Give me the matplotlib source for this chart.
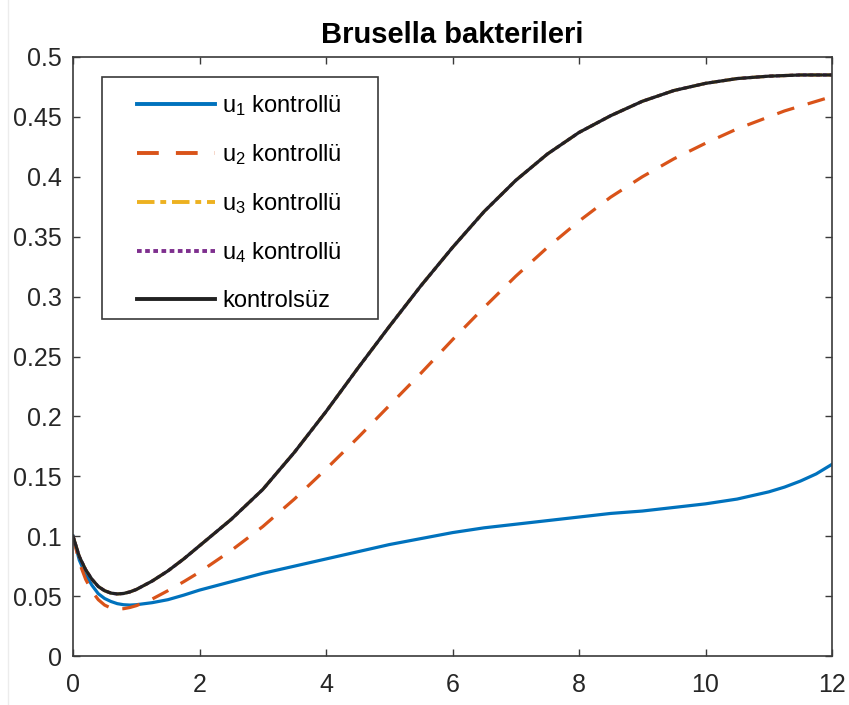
import matplotlib
matplotlib.use("Agg")
import matplotlib.pyplot as plt
from matplotlib.lines import Line2D
from matplotlib.patches import Rectangle

plt.rcParams["font.family"] = ["Liberation Sans", "DejaVu Sans"]
plt.rcParams["mathtext.fontset"] = "custom"
plt.rcParams["mathtext.rm"] = "Liberation Sans"
plt.rcParams["mathtext.it"] = "Liberation Sans:italic"

# Time axis (days) and bacteria population for each scenario
t = [0, 0.1, 0.2, 0.3, 0.4, 0.5, 0.6, 0.7, 0.8, 0.9, 1.0, 1.25, 1.5, 1.75,
     2.0, 2.5, 3.0, 3.5, 4.0, 4.5, 5.0, 5.5, 6.0, 6.5, 7.0, 7.5, 8.0, 8.5,
     9.0, 9.5, 10.0, 10.5, 11.0, 11.25, 11.5, 11.75, 12.0]

u1 = [0.100, 0.080, 0.068, 0.059, 0.052, 0.0480, 0.0455, 0.0437, 0.0428,
      0.0425, 0.0428, 0.0445, 0.0470, 0.0508, 0.055, 0.062, 0.069, 0.075,
      0.081, 0.087, 0.093, 0.098, 0.103, 0.107, 0.110, 0.113, 0.116, 0.119,
      0.121, 0.124, 0.127, 0.131, 0.137, 0.141, 0.146, 0.152, 0.160]

u2 = [0.100, 0.078, 0.064, 0.054, 0.047, 0.0425, 0.0400, 0.0392, 0.0395,
      0.0405, 0.0420, 0.0475, 0.0545, 0.0620, 0.070, 0.088, 0.108, 0.131,
      0.156, 0.182, 0.209, 0.236, 0.264, 0.291, 0.317, 0.341, 0.363, 0.383,
      0.400, 0.415, 0.428, 0.440, 0.450, 0.455, 0.459, 0.463, 0.467]

no_control = [0.100, 0.083, 0.072, 0.064, 0.058, 0.0545, 0.0525, 0.0518,
              0.0522, 0.0535, 0.0555, 0.0625, 0.0710, 0.0810, 0.092, 0.114,
              0.139, 0.170, 0.204, 0.240, 0.275, 0.309, 0.341, 0.371, 0.397,
              0.419, 0.437, 0.451, 0.463, 0.472, 0.478, 0.482, 0.484, 0.4845,
              0.485, 0.485, 0.485]

# u3 and u4 controls leave the curve unchanged
u3 = list(no_control)
u4 = list(no_control)

labels = [r"u$_1$ kontrollü", r"u$_2$ kontrollü", r"u$_3$ kontrollü",
          r"u$_4$ kontrollü", "kontrolsüz"]
xticks = [0, 2, 4, 6, 8, 10, 12]
yticks = [0, 0.05, 0.1, 0.15, 0.2, 0.25, 0.3, 0.35, 0.4, 0.45, 0.5]
title = "Brusella bakterileri"

fig = plt.figure(figsize=(8.49, 7.05), dpi=100)
ax = fig.add_axes([73 / 849, 49 / 705, 759 / 849, 599 / 705])

lw = 2.3
ax.plot(t, u1, color="#0072BD", lw=lw, label=labels[0])
ax.plot(t, u2, color="#D95319", lw=lw, ls=(0, (5.6, 4.4)), label=labels[1])
ax.plot(t, u3, color="#EDB120", lw=lw, ls=(0, (4.5, 1.5, 1.5, 1.5)), label=labels[2])
ax.plot(t, u4, color="#7E2F8E", lw=lw, ls=(0, (1.2, 0.9)), label=labels[3])
ax.plot(t, no_control, color="#222222", lw=lw, label=labels[4])

ax.set_xlim(0, 12)
ax.set_ylim(0, 0.5)
ax.set_xticks(xticks)
ax.set_xticklabels([f"{v:g}" for v in xticks])
ax.set_yticks(yticks)
ax.set_yticklabels([f"{v:g}" for v in yticks])

axis_color = "#3a3a3a"
for s in ax.spines.values():
    s.set_color(axis_color)
    s.set_linewidth(1.2)
ax.tick_params(axis="both", direction="in", length=5, width=1.0,
               color=axis_color, labelcolor="#262626", labelsize=18,
               top=True, right=True)
ax.tick_params(axis="x", pad=12)
ax.tick_params(axis="y", pad=8)

ax.set_title(title, fontsize=21, fontweight="bold", color="black", pad=10)

# legend entries without their own frame, boxed by a separate rectangle
leg = ax.legend(loc="upper left", bbox_to_anchor=(0.0843, 0.940),
                borderaxespad=0, borderpad=0, fontsize=17, frameon=False,
                handlelength=3.3, handletextpad=0.3, labelspacing=1.03)
for h in leg.legend_handles:
    h.set_linewidth(2.8)
ax.add_patch(Rectangle((0.0382, 0.5626), 0.3636, 0.404,
                       transform=ax.transAxes, facecolor="none",
                       edgecolor=axis_color, lw=1.2, zorder=6))

# thin rule along the left edge of the canvas
fig.add_artist(Line2D([8 / 849, 8 / 849], [0, 1], transform=fig.transFigure,
                      color="#ececec", lw=1))

fig.savefig("out.png", dpi=100)
